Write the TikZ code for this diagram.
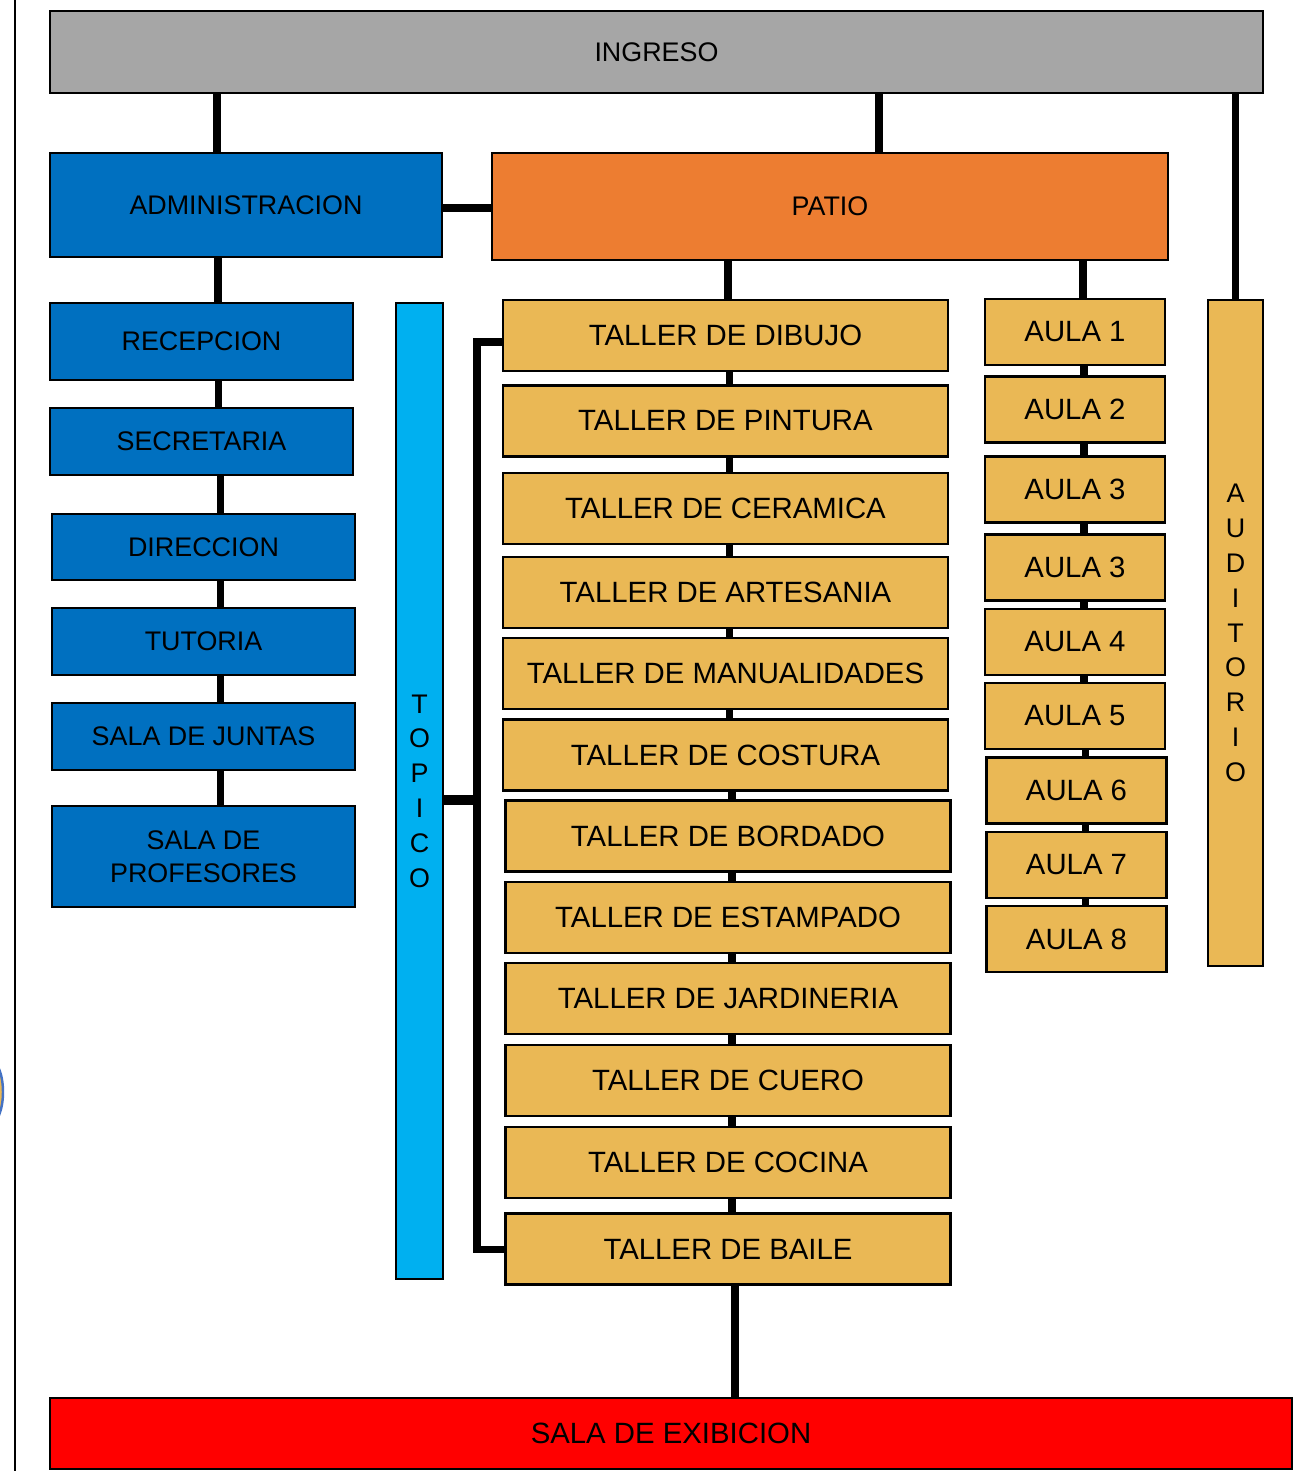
\documentclass[tikz,border=0pt]{standalone}
\usepackage{fontspec}
\setmainfont{Liberation Sans}
\usepackage{tikz}
\usetikzlibrary{positioning, calc}

\definecolor{gris}{HTML}{A6A6A6}
\definecolor{azul}{HTML}{0070C0}
\definecolor{naranja}{HTML}{ED7D31}
\definecolor{oro}{HTML}{EAB855}
\definecolor{celeste}{HTML}{00B0F0}
\definecolor{rojo}{HTML}{FF0000}
\definecolor{borde_azul}{HTML}{4472C4}

\begin{document}
\begin{tikzpicture}[
    x=0.02cm, y=-0.02cm,
    zona_box/.style = {draw, line width=1.2pt, rectangle, inner sep=0pt, align=center, font=\fontsize{15.3}{19}\selectfont},
    % Bloque administrativo (azul)
    admin_box/.style = {zona_box, fill=azul, minimum width=6.06cm, minimum height=1.34cm},
    % Talleres y aulas (dorado)
    taller_box/.style = {zona_box, fill=oro, minimum width=8.9cm, minimum height=1.42cm, font=\fontsize{16.7}{19}\selectfont},
    aula_box/.style = {zona_box, fill=oro, minimum width=3.6cm, minimum height=1.32cm, font=\fontsize{16.7}{19}\selectfont},
    % Columnas verticales con letras
    columna_box/.style = {zona_box, font=\fontsize{15.3}{19.8}\selectfont},
    link_line/.style = {line width=4pt}
]
\useasboundingbox (0,0) rectangle (1299,1471);

% --- Margen de la hoja ---
\draw[line width=1.1pt] (15,0) -- (15,1471);
\draw[draw=borde_azul, fill=oro, line width=1.4pt] (-10,1092) ellipse [x radius=0.26cm, y radius=0.64cm];

% --- Ingreso, administracion y patio ---
\node[zona_box, fill=gris, minimum width=24.26cm, minimum height=1.64cm] (ing) at (656.5,52) {INGRESO};
\node[zona_box, fill=azul, minimum width=7.84cm, minimum height=2.08cm] (adm) at (246,205) {ADMINISTRACION};
\node[zona_box, fill=naranja, minimum width=13.52cm, minimum height=2.14cm] (pat) at (830,206.5) {PATIO};

% --- Bloque administrativo ---
\node[admin_box, minimum height=1.54cm] (rec) at (201.5,341.5) {RECEPCION};
\node[admin_box] (sec) at (201.5,441.5) {SECRETARIA};
\node[admin_box, minimum height=1.32cm] (dir) at (203.5,547) {DIRECCION};
\node[admin_box] (tut) at (203.5,641.5) {TUTORIA};
\node[admin_box] (jun) at (203.5,736.5) {SALA DE JUNTAS};
\node[admin_box, minimum height=2.02cm] (prof) at (203.5,856.5) {SALA DE\\PROFESORES};

% --- Topico y auditorio ---
\node[columna_box, fill=celeste, minimum width=0.94cm, minimum height=19.52cm] (top) at (419.5,791) {T\\O\\P\\I\\C\\O};
\node[columna_box, fill=oro, minimum width=1.1cm, minimum height=13.32cm] (aud) at (1235.5,633) {A\\U\\D\\I\\T\\O\\R\\I\\O};

% --- Talleres ---
\node[taller_box] (t1) at (725.5,335.5) {TALLER DE DIBUJO};
\node[taller_box] (t2) at (725.5,421) {TALLER DE PINTURA};
\node[taller_box] (t3) at (725.5,508.5) {TALLER DE CERAMICA};
\node[taller_box] (t4) at (725.5,592.5) {TALLER DE ARTESANIA};
\node[taller_box] (t5) at (725.5,673.5) {TALLER DE MANUALIDADES};
\node[taller_box] (t6) at (725.5,755) {TALLER DE COSTURA};
\node[taller_box] (t7) at (728,836) {TALLER DE BORDADO};
\node[taller_box] (t8) at (728,917.5) {TALLER DE ESTAMPADO};
\node[taller_box] (t9) at (728,998.5) {TALLER DE JARDINERIA};
\node[taller_box] (t10) at (728,1080.5) {TALLER DE CUERO};
\node[taller_box] (t11) at (728,1162.5) {TALLER DE COCINA};
\node[taller_box] (t12) at (728,1249) {TALLER DE BAILE};

% --- Aulas ---
\node[aula_box] (a1) at (1075,332) {AULA 1};
\node[aula_box] (a2) at (1075,409.5) {AULA 2};
\node[aula_box] (a3) at (1075,489.5) {AULA 3};
\node[aula_box] (a4) at (1075,567.5) {AULA 3}; % repetida en el original
\node[aula_box] (a5) at (1075,642) {AULA 4};
\node[aula_box] (a6) at (1075,716) {AULA 5};
\node[aula_box] (a7) at (1076.5,790.5) {AULA 6};
\node[aula_box] (a8) at (1076.5,865) {AULA 7};
\node[aula_box] (a9) at (1076.5,939) {AULA 8};

% --- Sala de exibicion ---
\node[zona_box, fill=rojo, minimum width=24.84cm, minimum height=1.42cm, font=\fontsize{16.7}{19}\selectfont] (exh) at (671,1433.5) {SALA DE EXIBICION};

% --- Conexiones ---
\draw[link_line] ([xshift=-0.58cm]adm.north) -- ([xshift=-0.58cm]adm.north |- ing.south);
\draw[link_line] ([xshift=0.98cm]pat.north) -- ([xshift=0.98cm]pat.north |- ing.south);
\draw[link_line] (aud.north) -- (aud.north |- ing.south);
\draw[link_line] ([yshift=-0.06cm]adm.east) -- ([yshift=-0.06cm]adm.east -| pat.west);
\draw[link_line] ([xshift=0.33cm]rec.north) -- ([xshift=0.33cm]rec.north |- adm.south);
\draw[link_line] ([xshift=0.05cm]t1.north) -- ([xshift=0.05cm]t1.north |- pat.south);
\draw[link_line] ([xshift=0.16cm]a1.north) -- ([xshift=0.16cm]a1.north |- pat.south);
\draw[link_line] ([xshift=0.14cm]t12.south) -- ([xshift=0.14cm]t12.south |- exh.north);

% cadenas verticales
\foreach \a/\b in {rec/sec, sec/dir, dir/tut, tut/jun, jun/prof}
    \draw[link_line] ([xshift=0.34cm]\b.north) -- ([xshift=0.34cm]\b.north |- \a.south);
\foreach \i [evaluate=\i as \j using int(\i+1)] in {1,...,11}
    \draw[link_line] ([xshift=0.08cm]t\j.north) -- ([xshift=0.08cm]t\j.north |- t\i.south);
\foreach \i [evaluate=\i as \j using int(\i+1)] in {1,...,8}
    \draw[link_line] ([xshift=0.18cm]a\j.north) -- ([xshift=0.18cm]a\j.north |- a\i.south);

% topico hacia los talleres
\coordinate (bus) at (477,800);
\draw[link_line, line width=5.5pt] ([yshift=-0.18cm]top.east) -- (bus);
\draw[link_line] ([yshift=-0.13cm]t1.west) -| (bus) |- (t12.west);

\end{tikzpicture}
\end{document}
